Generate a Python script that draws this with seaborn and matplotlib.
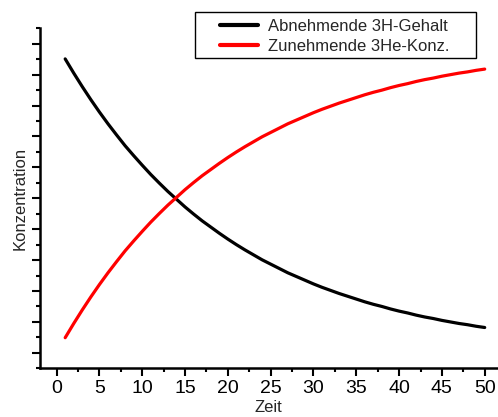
import numpy as np
import pandas as pd
import matplotlib
matplotlib.use("Agg")
import matplotlib.pyplot as plt
from matplotlib.ticker import MultipleLocator, NullFormatter
from matplotlib.patches import Rectangle
import seaborn as sns

# Data (arbitrary concentration units), one value per year
zeit = list(range(1, 51))
h3_gehalt = [0.951, 0.905, 0.861, 0.819, 0.779, 0.741, 0.705, 0.670, 0.638, 0.607,
             0.577, 0.549, 0.522, 0.497, 0.472, 0.449, 0.427, 0.407, 0.387, 0.368,
             0.350, 0.333, 0.317, 0.301, 0.287, 0.273, 0.259, 0.247, 0.235, 0.223,
             0.212, 0.202, 0.192, 0.183, 0.174, 0.165, 0.157, 0.150, 0.142, 0.135,
             0.129, 0.122, 0.116, 0.111, 0.105, 0.100, 0.095, 0.091, 0.086, 0.082]
he3_konz = [0.049, 0.095, 0.139, 0.181, 0.221, 0.259, 0.295, 0.330, 0.362, 0.393,
            0.423, 0.451, 0.478, 0.503, 0.528, 0.551, 0.573, 0.593, 0.613, 0.632,
            0.650, 0.667, 0.683, 0.699, 0.713, 0.727, 0.741, 0.753, 0.765, 0.777,
            0.788, 0.798, 0.808, 0.817, 0.826, 0.835, 0.843, 0.850, 0.858, 0.865,
            0.871, 0.878, 0.884, 0.889, 0.895, 0.900, 0.905, 0.909, 0.914, 0.918]
labels = ["Abnehmende 3H-Gehalt", "Zunehmende 3He-Konz."]
x_ticks = [0, 5, 10, 15, 20, 25, 30, 35, 40, 45, 50]

df = pd.DataFrame({
    "Zeit": zeit + zeit,
    "Konzentration": h3_gehalt + he3_konz,
    "Serie": [labels[0]] * len(zeit) + [labels[1]] * len(zeit),
})

sns.set_style("ticks")
plt.rcParams["font.family"] = ["Liberation Sans", "DejaVu Sans"]

W, H = 498, 417
fig = plt.figure(figsize=(W / 100, H / 100), dpi=100)
ax = fig.add_axes([39.5 / W, 1 - 368.3 / H, (496.7 - 39.5) / W, 340 / H])

sns.lineplot(data=df, x="Zeit", y="Konzentration", hue="Serie",
             palette={labels[0]: "#000000", labels[1]: "#ff0000"},
             linewidth=2.3, ax=ax, legend=True)

ax.set_xlim(-2, 51.4)
ax.set_ylim(-0.05, 1.05)
ax.set_xticks(x_ticks)
ax.xaxis.set_minor_locator(MultipleLocator(2.5))
ax.yaxis.set_major_locator(MultipleLocator(0.1))
ax.yaxis.set_minor_locator(MultipleLocator(0.05))
ax.yaxis.set_major_formatter(NullFormatter())

for s in ["top", "right"]:
    ax.spines[s].set_visible(False)
for s in ["left", "bottom"]:
    ax.spines[s].set_linewidth(1.8)
    ax.spines[s].set_color("black")

ax.tick_params(axis="both", which="major", direction="out", length=5.8, width=1.5,
               color="black", labelsize=14, pad=2.5, labelcolor="black")
ax.tick_params(axis="both", which="minor", direction="out", length=3, width=1.5, color="black")

ax.set_xlabel("Zeit", fontsize=12, labelpad=2.5)
ax.set_ylabel("Konzentration", fontsize=12, labelpad=0.5)

fs = 12
bp = 0.45
leg = ax.legend(loc="upper left",
                bbox_to_anchor=((220 - bp * fs * 100 / 72) / W, 1 - 11.7 / H),
                bbox_transform=fig.transFigure, borderaxespad=0,
                fontsize=fs, frameon=False,
                handlelength=2.25, handletextpad=0.6, borderpad=bp, labelspacing=0.3,
                title=None)
for line in leg.get_lines():
    line.set_linewidth(3)

# legend frame (wider padding than matplotlib's symmetric borderpad allows)
fig.patches.append(Rectangle((195 / W, 1 - 58.3 / H), (476 - 195) / W, 46.6 / H,
                             transform=fig.transFigure, fill=False,
                             edgecolor="black", linewidth=1.0, zorder=5))

fig.savefig("out.png", dpi=100)
